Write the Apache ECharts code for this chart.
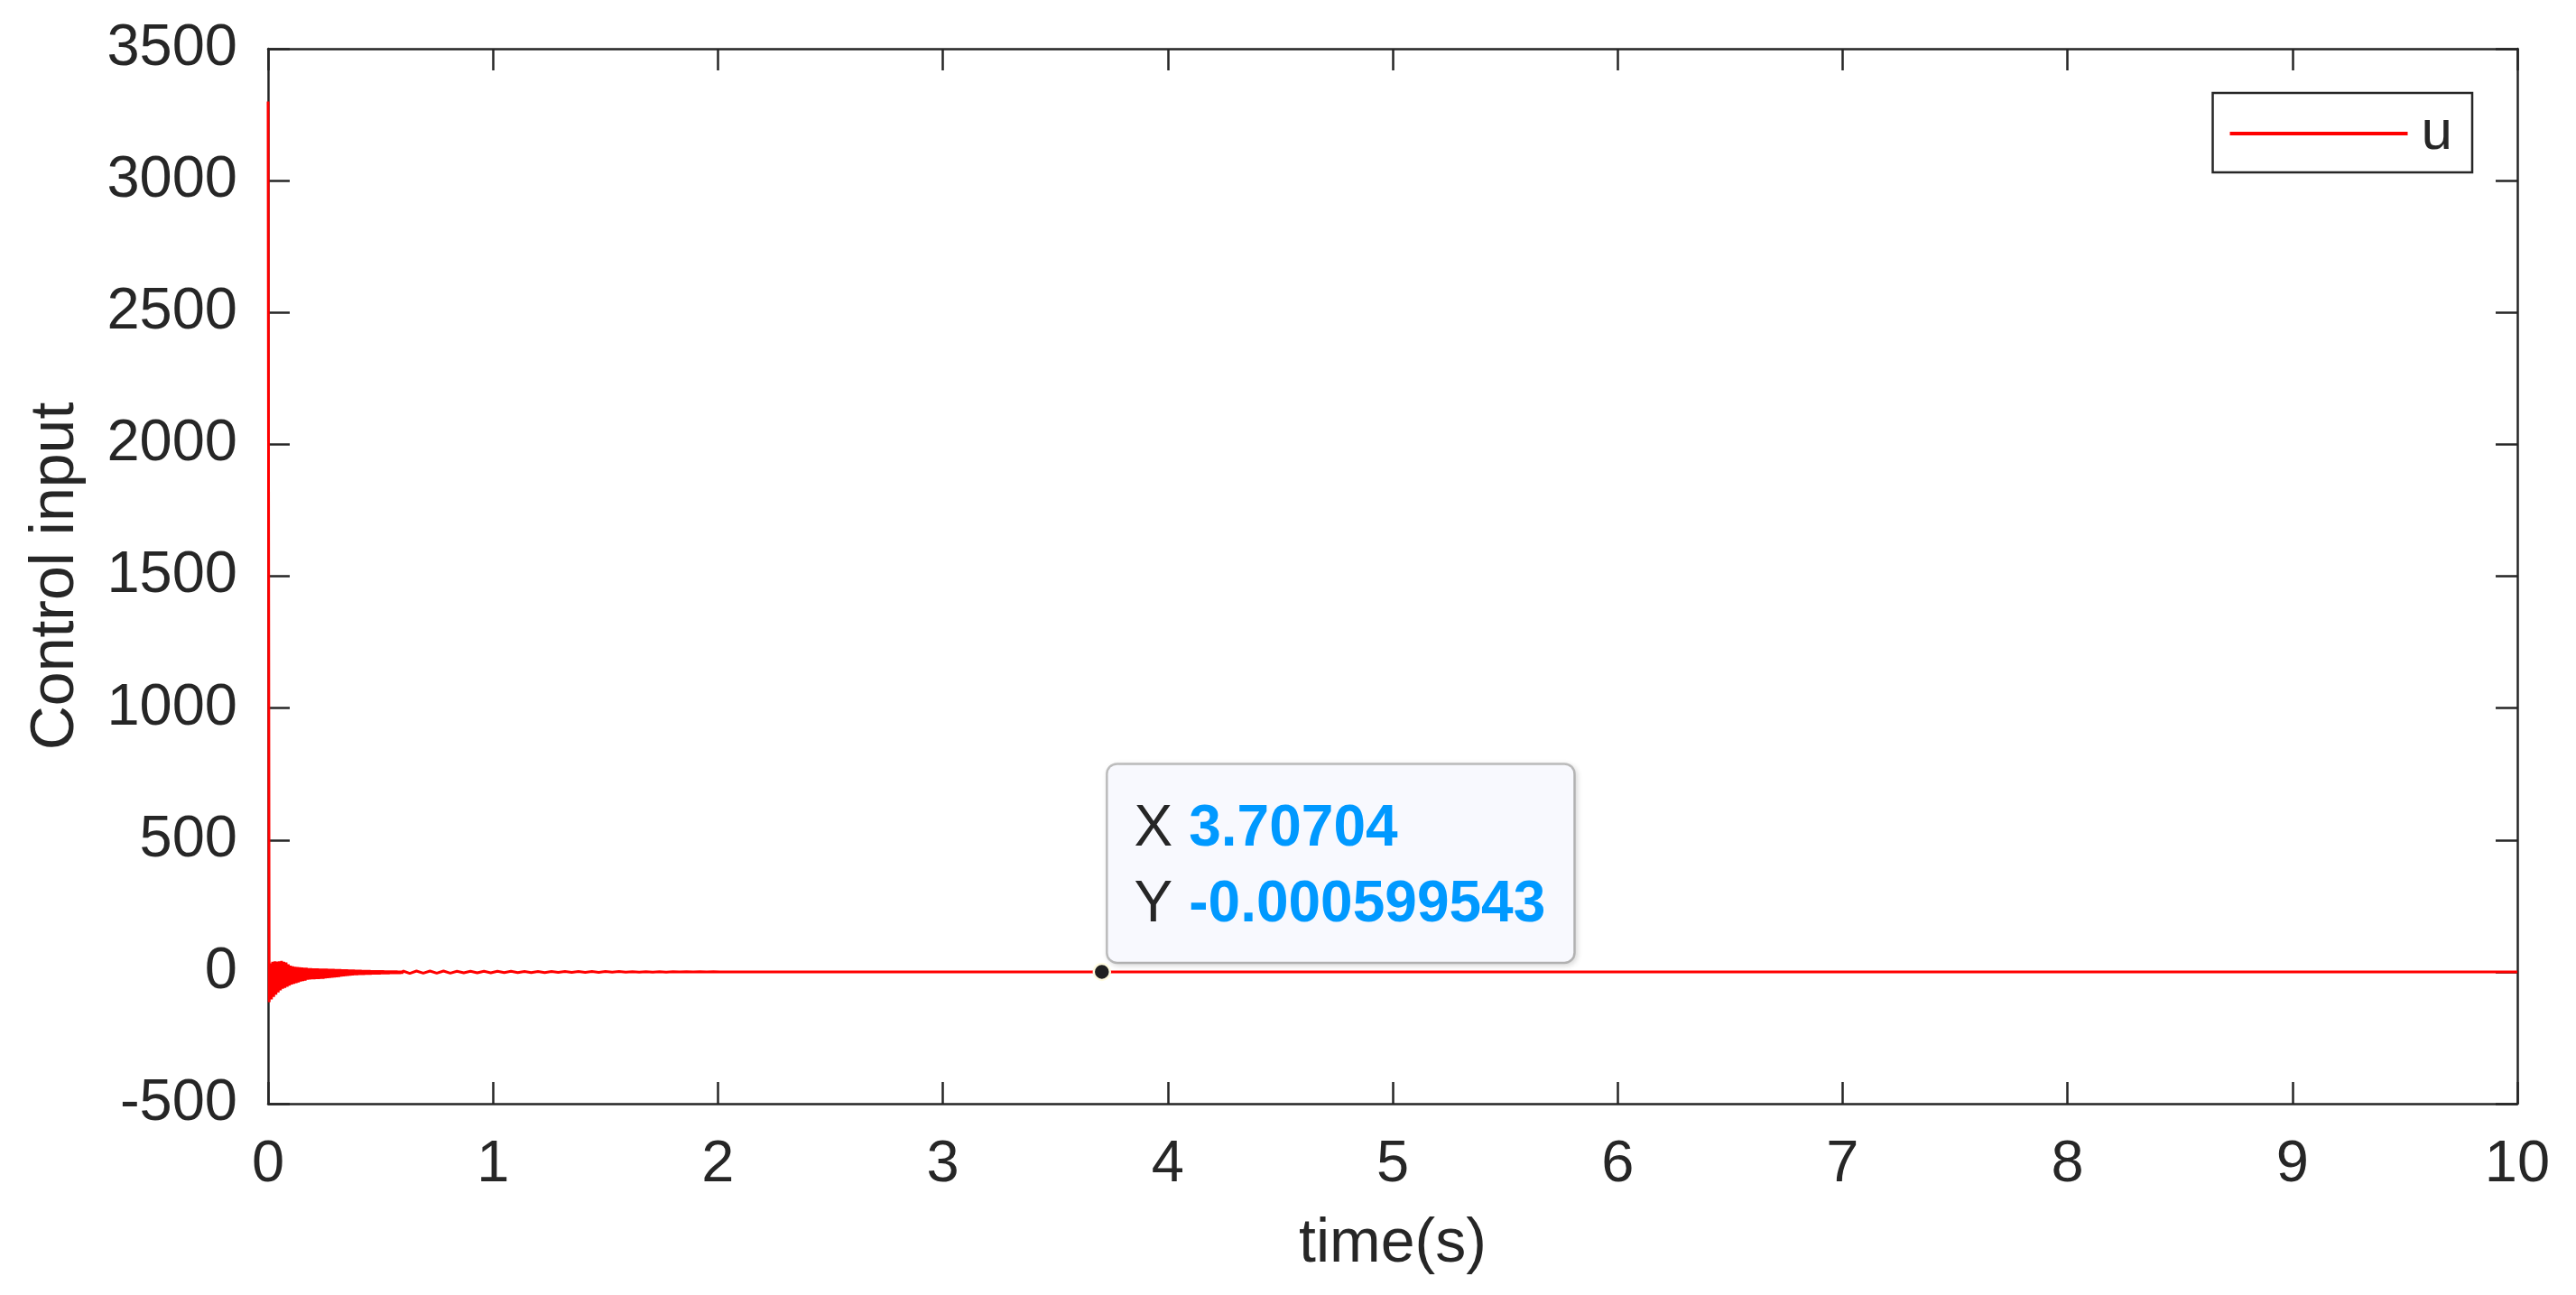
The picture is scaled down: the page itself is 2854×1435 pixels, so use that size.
<!DOCTYPE html>
<html>
<head>
<meta charset="utf-8">
<script src="https://cdn.jsdelivr.net/npm/echarts@6/dist/echarts.min.js"></script>
<style>
html,body{margin:0;padding:0;background:#fff;}
#c{width:2854px;height:1435px;}
</style>
</head>
<body>
<div id="c"></div>
<script>
// ---- data ----
var xTicks = [0,1,2,3,4,5,6,7,8,9,10];
var yTicks = [-500,0,500,1000,1500,2000,2500,3000,3500];

// initial transient (0 .. 0.3 s)
var time1 = [0,0.005,0.01,0.015,0.02,0.025,0.03,0.035,0.04,0.045,0.05,0.055,0.06,0.065,0.07,0.075,0.08,0.085,0.09,0.095,
  0.1,0.105,0.11,0.115,0.12,0.125,0.13,0.135,0.14,0.145,0.15,0.155,0.16,0.165,0.17,0.175,0.18,0.185,0.19,0.195,
  0.2,0.205,0.21,0.215,0.22,0.225,0.23,0.235,0.24,0.245,0.25,0.255,0.26,0.265,0.27,0.275,0.28,0.285,0.29,0.295,0.3];
var u1 = [3300,-115,32,-105,38,-95,40,-87,39,-78,40,-70,41,-64,38,-61,35,-57,28,-52,
  23,-48,21,-45,19,-43,18,-40,17,-37,16,-35,15,-33,15,-30,14,-29,14,-28,
  13,-28,13,-27,13,-27,12,-26,12,-26,12,-25,12,-24,11,-23,11,-22,11,-21,10];

// decaying oscillation (0.305 .. 0.6 s)
var time2 = [0.305,0.31,0.315,0.32,0.325,0.33,0.335,0.34,0.345,0.35,0.355,0.36,0.365,0.37,0.375,0.38,0.385,0.39,0.395,0.4,
  0.405,0.41,0.415,0.42,0.425,0.43,0.435,0.44,0.445,0.45,0.455,0.46,0.465,0.47,0.475,0.48,0.485,0.49,0.495,0.5,
  0.505,0.51,0.515,0.52,0.525,0.53,0.535,0.54,0.545,0.55,0.555,0.56,0.565,0.57,0.575,0.58,0.585,0.59,0.595,0.6];
var u2 = [-20,10,-19,10,-18,9,-17,9,-16,9,-15,8,-14,8,-13,8,-12,7,-12,7,
  -11,7,-11,6,-11,6,-10,6,-10,6,-10,5,-9,5,-9,5,-9,5,-9,5,
  -8,5,-8,4,-8,4,-8,4,-7,4,-7,4,-7,4,-7,3,-7,3,-6,3];

// small residual chatter (0.63 .. 2.01 s)
var time3 = [0.63,0.66,0.69,0.72,0.75,0.78,0.81,0.84,0.87,0.9,0.93,0.96,0.99,1.02,1.05,1.08,1.11,1.14,1.17,1.2,
  1.23,1.26,1.29,1.32,1.35,1.38,1.41,1.44,1.47,1.5,1.53,1.56,1.59,1.62,1.65,1.68,1.71,1.74,1.77,1.8,
  1.83,1.86,1.89,1.92,1.95,1.98,2.01];
var u3 = [-6,3,-5,3,-5,3,-5,2,-4,2,-4,2,-4,2,-3,2,-3,1,-3,1,
  -3,1,-2,1,-2,1,-2,1,-2,1,-1,1,-1,0.5,-1,0.5,-1,0.5,-1,0.5,
  -0.5,0.5,-0.5,0.3,-0.3,0.2,-0.2];

// settled part
var time4 = [2.5,3.70704,6,10];
var u4 = [-0.002,-0.000599543,0,0];

// data tip
var tipX = 3.70704;
var tipY = -0.000599543;

var seriesName = 'u';
var xName = 'time(s)';
var yName = 'Control input';

// ---- build ----
var allT = time1.concat(time2, time3, time4);
var allU = u1.concat(u2, u3, u4);
var lineData = allT.map(function(t,i){ return [t, allU[i]]; });

var FONT = "'Liberation Sans', Arial, Helvetica, sans-serif";
var INK = '#262626';

var chart = echarts.init(document.getElementById('c'), null, {renderer:'canvas'});

function axisCommon(showLabel){
  return {
    axisLine:{show:true, onZero:false, lineStyle:{color:INK, width:2.5}},
    axisTick:{show:true, inside:true, length:24, lineStyle:{color:INK, width:2.5}},
    splitLine:{show:false},
    axisLabel:{show:showLabel, color:INK, fontSize:65, fontFamily:FONT,
      formatter:function(v){ return String(v); }}
  };
}

var xBottom = Object.assign(axisCommon(true), {
  type:'value', position:'bottom', min:xTicks[0], max:xTicks[xTicks.length-1], interval:1,
  name:xName, nameLocation:'middle', nameGap:122,
  nameTextStyle:{color:INK, fontSize:68, fontFamily:FONT}
});
xBottom.axisLabel.margin = 36;
var xTop = Object.assign(axisCommon(false), {
  type:'value', position:'top', min:xTicks[0], max:xTicks[xTicks.length-1], interval:1
});
var yLeft = Object.assign(axisCommon(true), {
  type:'value', position:'left', min:yTicks[0], max:yTicks[yTicks.length-1], interval:500,
  name:yName, nameLocation:'middle', nameGap:201,
  nameTextStyle:{color:INK, fontSize:68, fontFamily:FONT}
});
yLeft.axisLabel.margin = 34;
var yRight = Object.assign(axisCommon(false), {
  type:'value', position:'right', min:yTicks[0], max:yTicks[yTicks.length-1], interval:500
});

chart.setOption({
  animation:false,
  backgroundColor:'#ffffff',
  grid:{left:297, right:65, top:54, bottom:212, containLabel:false},
  legend:{
    data:[{name:seriesName, icon:'rect'}],
    right:115, top:103,
    orient:'vertical',
    backgroundColor:'#ffffff',
    borderColor:INK, borderWidth:2.5, borderRadius:0,
    padding:[14,22,12,19],
    itemWidth:197, itemHeight:4,
    textStyle:{color:INK, fontSize:62, fontFamily:FONT, padding:[0,0,0,10]}
  },
  xAxis:[xBottom, xTop],
  yAxis:[yLeft, yRight],
  series:[
    {
      name:seriesName, type:'line', data:lineData,
      xAxisIndex:0, yAxisIndex:0,
      showSymbol:false, symbol:'none', sampling:null,
      lineStyle:{color:'#ff0000', width:3},
      itemStyle:{color:'#ff0000'},
      z:2
    },
    {
      name:'tip', type:'scatter', data:[[tipX, tipY]],
      xAxisIndex:0, yAxisIndex:0,
      symbol:'circle', symbolSize:18,
      itemStyle:{color:'#1f1f1f', borderColor:'#fffbe0', borderWidth:2.5, opacity:1},
      z:5,
      label:{
        show:true,
        position:[17,-1],
        align:'left', verticalAlign:'bottom',
        backgroundColor:'#f8f9fe',
        borderColor:'#bfbfbf', borderWidth:2.5, borderRadius:10,
        padding:[30,31,20,29],
        lineHeight:84,
        opacity:1,
        shadowColor:'rgba(0,0,0,0.12)', shadowBlur:6, shadowOffsetX:2, shadowOffsetY:2,
        formatter:function(p){
          return '{k|X}{v|' + p.value[0] + '}\n{k|Y}{v|' + p.value[1] + '}';
        },
        rich:{
          k:{color:INK, fontSize:64, fontFamily:FONT, lineHeight:84, padding:[0,18,0,0]},
          v:{color:'#0099ff', fontSize:64, fontWeight:'bold', fontFamily:FONT, lineHeight:84}
        }
      }
    }
  ]
});
</script>
</body>
</html>
